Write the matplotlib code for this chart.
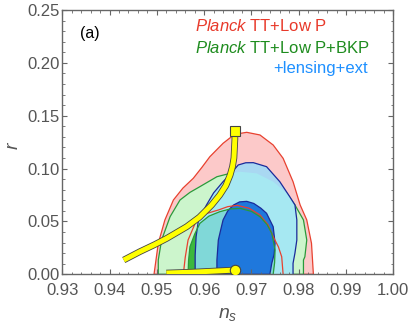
"""
Recreation of panel (a): r vs n_s constraints with two model tracks.
"""

import matplotlib
matplotlib.use("Agg")
import matplotlib.pyplot as plt
import matplotlib.patheffects as pe
from matplotlib.ticker import MultipleLocator

# Planck TT+Low P (95% / 68%)
red95_ns = [0.9494, 0.9503, 0.9517, 0.9535, 0.9555, 0.9577, 0.9595, 0.9612, 0.9640,
            0.9658, 0.9675, 0.9690, 0.9718, 0.9746, 0.9767, 0.9788, 0.9803, 0.9817,
            0.9827, 0.9831]
red95_r = [0.0, 0.0293, 0.0514, 0.0703, 0.0815, 0.0908, 0.1010, 0.1112, 0.1239,
           0.1302, 0.1332, 0.1343, 0.1318, 0.1223, 0.1097, 0.0876, 0.0656, 0.0514,
           0.0293, 0.0]
red68_ns = [0.9556, 0.9560, 0.9566, 0.9584, 0.9605, 0.9630, 0.9650, 0.9670, 0.9695,
            0.9718, 0.9735, 0.9746, 0.9757, 0.9764, 0.9767]
red68_r = [0.0, 0.0160, 0.0324, 0.0514, 0.0575, 0.0608, 0.0640, 0.0652, 0.0625,
           0.0561, 0.0470, 0.0356, 0.0260, 0.0166, 0.0]

# Planck TT+Low P+BKP
green95_ns = [0.9503, 0.9503, 0.9510, 0.9528, 0.9549, 0.9570, 0.9591, 0.9627, 0.9655,
              0.9676, 0.9711, 0.9746, 0.9775, 0.9792, 0.9810, 0.9817, 0.9813, 0.9810,
              0.9810]
green95_r = [0.0, 0.0135, 0.0324, 0.0545, 0.0703, 0.0775, 0.0829, 0.0923, 0.0955,
             0.0970, 0.0955, 0.0876, 0.0766, 0.0656, 0.0514, 0.0324, 0.0166, 0.0135,
             0.0]
green68_ns = [0.9566, 0.9567, 0.9570, 0.9580, 0.9591, 0.9610, 0.9633, 0.9655, 0.9676,
              0.9700, 0.9718, 0.9733, 0.9743, 0.9750, 0.9749, 0.9746]
green68_r = [0.0, 0.0130, 0.0261, 0.0380, 0.0482, 0.0550, 0.0592, 0.0618, 0.0624,
             0.0595, 0.0545, 0.0470, 0.0388, 0.0230, 0.0110, 0.0]

# +lensing+ext
blue95_ns = [0.9581, 0.9581, 0.9583, 0.9588, 0.9605, 0.9620, 0.9640, 0.9658, 0.9672,
             0.9688, 0.9704, 0.9732, 0.9760, 0.9781, 0.9792, 0.9796, 0.9796, 0.9792,
             0.9788, 0.9788]
blue95_r = [0.0, 0.0180, 0.0356, 0.0514, 0.0656, 0.0770, 0.0876, 0.0960, 0.1034,
            0.1055, 0.1056, 0.1018, 0.0876, 0.0734, 0.0656, 0.0514, 0.0324, 0.0200,
            0.0104, 0.0]
blue68_ns = [0.9627, 0.9627, 0.9630, 0.9635, 0.9640, 0.9650, 0.9662, 0.9675, 0.9690,
             0.9705, 0.9720, 0.9732, 0.9746, 0.9750, 0.9748, 0.9743, 0.9739]
blue68_r = [0.0, 0.0135, 0.0324, 0.0420, 0.0514, 0.0600, 0.0655, 0.0685, 0.0690,
            0.0670, 0.0625, 0.0577, 0.0450, 0.0293, 0.0190, 0.0104, 0.0]

# model tracks
track1_ns = [0.9430, 0.9464, 0.9495, 0.9521, 0.9563, 0.9590, 0.9616, 0.9633, 0.9646,
             0.9655, 0.9660, 0.9663, 0.9665, 0.9665]
track1_r = [0.0135, 0.0214, 0.0280, 0.0340, 0.0450, 0.0540, 0.0656, 0.0750, 0.0840,
            0.0939, 0.1020, 0.1100, 0.1280, 0.1355]
track2_ns = [0.9520, 0.9575, 0.9620, 0.9665]
track2_r = [0.0012, 0.0020, 0.0030, 0.0040]

xticks = [0.93, 0.94, 0.95, 0.96, 0.97, 0.98, 0.99, 1.00]
yticks = [0.00, 0.05, 0.10, 0.15, 0.20, 0.25]

plt.rcParams["font.family"] = ["Liberation Sans", "DejaVu Sans"]
plt.rcParams["mathtext.fontset"] = "custom"
plt.rcParams["mathtext.it"] = "Liberation Sans:italic"
plt.rcParams["mathtext.rm"] = "Liberation Sans"

fig = plt.figure(figsize=(4.13, 3.26), dpi=100)
ax = fig.add_axes([0.1508, 0.1586, 0.8015, 0.8107])

RED, GREEN, NAVY = "#e8412f", "#2a9a3a", "#1a2a9a"

# 95% regions
red_out = ax.fill(red95_ns, red95_r, facecolor="#fcc9c9", edgecolor=RED, lw=0.9)[0]
green_out = ax.fill(green95_ns, green95_r, facecolor="#ccf5cc", edgecolor=GREEN, lw=0.9)[0]
ax.fill(blue95_ns, blue95_r, facecolor="#a9d8f2", edgecolor="none")
blue_on_green = ax.fill(blue95_ns, blue95_r, facecolor="#a6e8f2", edgecolor="none")[0]
blue_on_green.set_clip_path(green_out)

# 68% regions
green_in = ax.fill(green68_ns, green68_r, facecolor="#3cb83c", edgecolor="none")[0]
teal = ax.fill(blue95_ns, blue95_r, facecolor="#80d8d8", edgecolor="none")[0]
teal.set_clip_path(green_in)
ax.plot(blue95_ns, blue95_r, color=NAVY, lw=0.9)
ax.plot(red68_ns, red68_r, color=RED, lw=0.9)
ax.plot(green68_ns, green68_r, color=GREEN, lw=0.9)
ax.fill(blue68_ns, blue68_r, facecolor="#1f78dc", edgecolor=NAVY, lw=0.9)

# model tracks
stroke = [pe.Stroke(linewidth=4.8, foreground="#444444"), pe.Normal()]
ax.plot(track1_ns, track1_r, color="#ffff00", lw=3.6, solid_capstyle="butt",
        path_effects=stroke, zorder=4)
ax.plot(track2_ns, track2_r, color="#ffff00", lw=3.6, solid_capstyle="butt",
        path_effects=stroke, zorder=4)
ax.plot(track1_ns[-1], track1_r[-1], "s", ms=7.5, mfc="#ffff00", mec="#444444",
        mew=0.8, zorder=5)
ax.plot(track2_ns[-1], track2_r[-1], "o", ms=7.5, mfc="#ffff00", mec="#444444",
        mew=0.8, zorder=5)

# labels
ax.text(0.084, 0.913, "(a)", transform=ax.transAxes, fontsize=11.5,
        ha="center", va="center")
ax.text(0.40, 0.939, r"$\mathit{Planck}$ TT+Low P", transform=ax.transAxes,
        fontsize=12, color="#e8392a", va="center")
ax.text(0.40, 0.856, r"$\mathit{Planck}$ TT+Low P+BKP", transform=ax.transAxes,
        fontsize=12, color="#1e8c1e", va="center")
ax.text(0.637, 0.777, "+lensing+ext", transform=ax.transAxes,
        fontsize=12, color="#1e90ff", va="center")

ax.set_xlim(0.93, 1.00)
ax.set_ylim(0.0, 0.25)
ax.set_xticks(xticks)
ax.set_yticks(yticks)
ax.set_xticklabels([f"{v:.2f}" for v in xticks])
ax.set_yticklabels([f"{v:.2f}" for v in yticks])
ax.xaxis.set_minor_locator(MultipleLocator(0.002))
ax.yaxis.set_minor_locator(MultipleLocator(0.01))
ax.tick_params(which="both", direction="in", top=True, right=True,
               colors="#666666", labelcolor="#555555", labelsize=12)
ax.tick_params(axis="x", which="major", pad=6)
ax.tick_params(axis="y", which="major", pad=2)
ax.tick_params(which="major", length=3.5, width=0.8)
ax.tick_params(which="minor", length=1.8, width=0.6)
for sp in ax.spines.values():
    sp.set_color("#666666")
    sp.set_linewidth(1.0)

ax.set_xlabel(r"$n_s$", fontsize=14, color="#555555", labelpad=6)
fig.text(14 / 413, 0.555, r"$r$", fontsize=14, color="#555555",
         rotation=90, ha="center", va="center")

fig.savefig("out.png", dpi=100)
